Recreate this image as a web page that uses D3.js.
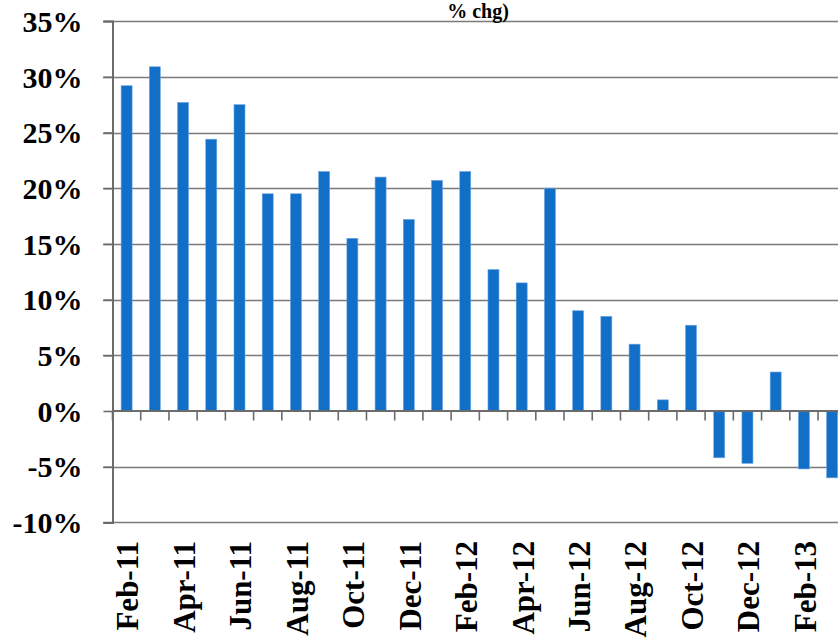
<!DOCTYPE html>
<html>
<head>
<meta charset="utf-8">
<script src="https://cdn.jsdelivr.net/npm/d3@7"></script>
<style>
  html, body { margin: 0; padding: 0; background: #fff; }
  svg { display: block; }
</style>
</head>
<body>
<svg id="chart" width="838" height="642"></svg>
<script>
// Monthly year-over-year change, Feb-11 to Mar-13
const months = [
  "Feb-11","Mar-11","Apr-11","May-11","Jun-11","Jul-11","Aug-11","Sep-11",
  "Oct-11","Nov-11","Dec-11","Jan-12","Feb-12","Mar-12","Apr-12","May-12",
  "Jun-12","Jul-12","Aug-12","Sep-12","Oct-12","Nov-12","Dec-12","Jan-13",
  "Feb-13","Mar-13"
];
const changePct = [
  29.2, 30.9, 27.7, 24.4, 27.5, 19.5, 19.5, 21.5,
  15.5, 21.0, 17.2, 20.7, 21.5, 12.7, 11.5, 20.0,
  9.0, 8.5, 6.0, 1.0, 7.7, -4.2, -4.7, 3.5,
  -5.2, -6.0
];
const yTicks = [-10, -5, 0, 5, 10, 15, 20, 25, 30, 35];
const titleText = "% chg)";

const svg = d3.select("#chart");
const W = 838;
const axisX = 112.5;
const step = 28.22;

const x = d3.scaleBand()
  .domain(months)
  .range([axisX, axisX + step * months.length])
  .paddingInner(0.61)
  .paddingOuter(0.305);

const y = d3.scaleLinear().domain([-10, 35]).range([522.4, 21.1]);

const serif = "'Liberation Serif', 'Times New Roman', serif";

// gridlines
svg.append("g")
  .selectAll("line")
  .data(yTicks.filter(d => d !== 0))
  .join("line")
  .attr("x1", 103).attr("x2", W)
  .attr("y1", d => Math.round(y(d)) + 0.5).attr("y2", d => Math.round(y(d)) + 0.5)
  .attr("stroke", "#7a7a7a").attr("stroke-width", 1.6);

// bars
svg.append("g")
  .selectAll("rect")
  .data(months.map((m, i) => ({ m, v: changePct[i] })))
  .join("rect")
  .attr("x", d => x(d.m))
  .attr("width", x.bandwidth())
  .attr("y", d => y(Math.max(0, d.v)))
  .attr("height", d => Math.abs(y(d.v) - y(0)))
  .attr("fill", "#116fc7")
  .attr("stroke", "#6fa6e0")
  .attr("stroke-width", 0.6);

// y axis
const yAxis = d3.axisLeft(y)
  .tickValues(yTicks)
  .tickSize(9)
  .tickPadding(21)
  .tickFormat(d => d + "%");
const yg = svg.append("g").attr("transform", `translate(${axisX},0)`).call(yAxis);
yg.select(".domain").attr("stroke", "#6b6b6b").attr("stroke-width", 2);
yg.selectAll(".tick line").attr("stroke", "#6b6b6b").attr("stroke-width", 1.6);
yg.selectAll(".tick text")
  .attr("font-family", serif)
  .attr("font-weight", "bold")
  .attr("font-size", 30)
  .attr("fill", "#000")
  .attr("dy", "0.34em");

// category axis along the zero line, ticks at category boundaries
const zeroY = y(0);
svg.append("line")
  .attr("x1", axisX).attr("x2", W)
  .attr("y1", zeroY).attr("y2", zeroY)
  .attr("stroke", "#6b6b6b").attr("stroke-width", 2.2);

const boundaries = months.map(m => x(m) - x.step() * x.paddingInner() / 2);
svg.append("g")
  .selectAll("line")
  .data(boundaries)
  .join("line")
  .attr("x1", d => d).attr("x2", d => d)
  .attr("y1", zeroY).attr("y2", zeroY + 9.5)
  .attr("stroke", "#6b6b6b").attr("stroke-width", 1.6);

// month labels, every other month, rotated
svg.append("g")
  .selectAll("text")
  .data(months.filter((m, i) => i % 2 === 0))
  .join("text")
  .attr("transform", d => `translate(${x(d) + x.bandwidth() / 2 + 1},541) rotate(-90)`)
  .attr("text-anchor", "end")
  .attr("dy", "0.35em")
  .attr("font-family", serif)
  .attr("font-weight", "bold")
  .attr("font-size", 31)
  .attr("fill", "#000")
  .text(d => d);

// title line above the plot
svg.append("text")
  .attr("x", 478).attr("y", 18)
  .attr("text-anchor", "middle")
  .attr("font-family", serif)
  .attr("font-weight", "bold")
  .attr("font-size", 20)
  .attr("fill", "#000")
  .text(titleText);
</script>
</body>
</html>
